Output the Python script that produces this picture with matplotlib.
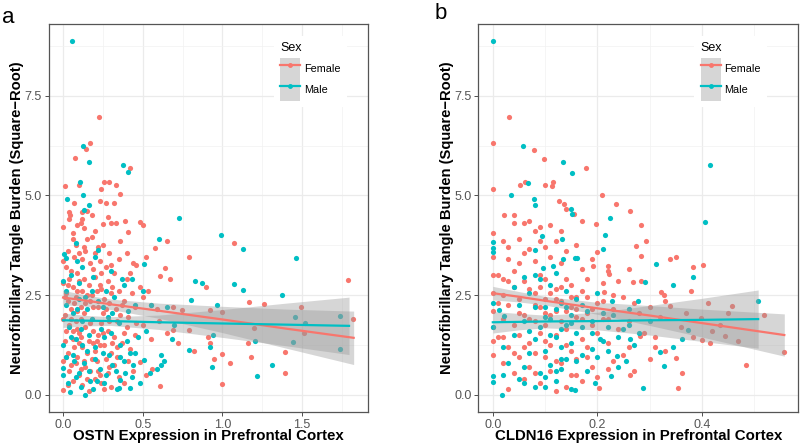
import numpy as np
import matplotlib.pyplot as plt
from matplotlib.patches import Patch
from matplotlib.lines import Line2D

plt.rcParams['font.family'] = ['Liberation Sans', 'DejaVu Sans']

FEMALE = '#F8766D'
MALE = '#00BFC4'

# panel a: OSTN expression vs tangle burden, (x, y) pairs
female_a = [
    (0.224, 6.98), (0.17, 6.31), (0.144, 6.17), (0.073, 5.93), (0.42, 5.68), (0.013, 5.24), (0.10, 5.26),
    (0.26, 5.35), (0.29, 5.35), (0.33, 5.25), (0.24, 5.16), (0.36, 5.03),
    (0.07, 4.81), (0.23, 4.87), (0.27, 4.8), (0.32, 4.8), (0.04, 4.58), (0.045, 4.5), (0.035, 4.4),
    (0.12, 4.58), (0.15, 4.62), (0.18, 4.52), (0.11, 4.3), (0.13, 4.18), (0.09, 4.25), (0.0, 4.2),
    (0.39, 4.36), (0.48, 4.33), (0.5, 4.26), (0.41, 4.09), (0.30, 4.32), (0.28, 4.45), (0.25, 4.28),
    (0.2, 4.1), (0.06, 4.05), (0.33, 4.3), (0.12, 4.4),
    (0.58, 3.67), (0.65, 3.85), (0.79, 3.46), (1.075, 3.81), (0.0, 3.35), (0.03, 3.6), (0.08, 3.75),
    (0.1, 3.55), (0.12, 3.4), (0.15, 3.9), (0.17, 3.3), (0.2, 3.55), (0.22, 3.7), (0.25, 3.75),
    (0.27, 3.2), (0.3, 3.25), (0.32, 3.05), (0.36, 3.85), (0.4, 3.55), (0.44, 3.3), (0.46, 3.25),
    (0.52, 3.45), (0.35, 3.4), (0.05, 3.1), (0.09, 3.05), (0.19, 3.15), (0.42, 3.05), (0.14, 3.6),
    (0.06, 3.9), (0.23, 3.35),
    (1.79, 2.88), (0.61, 2.98), (0.64, 3.19), (0.67, 2.9), (0.895, 2.7), (1.167, 2.32), (1.26, 2.29),
    (1.49, 2.21), (0.0, 2.8), (0.02, 2.55), (0.04, 2.9), (0.06, 2.7), (0.08, 2.45), (0.1, 2.85),
    (0.12, 2.6), (0.14, 2.3), (0.16, 2.75), (0.18, 2.5), (0.2, 2.95), (0.22, 2.2), (0.24, 2.65),
    (0.26, 2.4), (0.28, 2.85), (0.3, 2.55), (0.33, 2.15), (0.35, 2.6), (0.38, 2.35), (0.4, 2.9),
    (0.43, 2.55), (0.45, 2.2), (0.48, 2.7), (0.5, 2.45), (0.53, 2.6), (0.55, 2.25), (0.59, 2.15),
    (0.69, 2.2), (0.745, 2.12), (0.92, 2.13), (0.995, 2.07), (0.01, 2.0), (0.05, 2.15), (0.09, 2.1),
    (0.13, 2.05), (0.17, 2.35), (0.21, 2.6), (0.25, 2.05), (0.29, 2.3), (0.36, 2.0), (0.03, 2.35),
    (0.11, 2.2),
    (1.82, 1.9), (1.51, 1.54), (1.39, 1.08), (1.0, 1.03), (1.16, 1.3), (0.92, 1.31), (0.91, 1.46),
    (0.82, 1.09), (0.79, 1.63), (0.72, 1.3), (0.69, 1.62), (1.195, 1.67), (0.0, 1.9), (0.02, 1.6),
    (0.04, 1.75), (0.06, 1.4), (0.08, 1.85), (0.1, 1.55), (0.12, 1.2), (0.14, 1.7), (0.16, 1.35),
    (0.18, 1.9), (0.2, 1.1), (0.22, 1.5), (0.24, 1.8), (0.26, 1.25), (0.28, 1.6), (0.3, 1.05),
    (0.32, 1.45), (0.34, 1.85), (0.37, 1.3), (0.4, 1.7), (0.42, 1.15), (0.45, 1.5), (0.5, 1.75),
    (0.55, 1.4), (0.6, 1.85), (0.65, 1.55), (0.03, 1.05), (0.07, 1.2), (0.11, 1.9), (0.15, 1.05),
    (0.19, 1.6), (0.23, 1.25), (0.01, 1.35), (0.09, 1.65),
    (1.39, 0.54), (1.0, 0.28), (1.05, 0.79), (1.18, 0.94), (0.95, 0.9), (0.61, 0.21), (0.0, 0.12),
    (0.0, 0.85), (0.02, 0.95), (0.04, 0.6), (0.06, 0.35), (0.08, 0.8), (0.1, 0.5), (0.12, 0.25),
    (0.14, 0.7), (0.16, 0.1), (0.18, 0.9), (0.2, 0.4), (0.22, 0.6), (0.24, 0.3), (0.26, 0.15),
    (0.28, 0.55), (0.3, 0.2), (0.32, 0.75), (0.35, 0.45), (0.38, 0.3), (0.44, 0.6), (0.48, 0.82),
    (0.52, 0.5), (0.56, 0.65), (0.03, 0.25), (0.09, 0.95), (0.13, 0.85), (0.27, 0.9),
    (0.01, 2.45), (0.03, 2.75), (0.05, 1.9), (0.07, 2.3), (0.09, 2.6), (0.11, 1.45), (0.13, 2.9),
    (0.15, 2.5), (0.17, 1.8), (0.19, 2.2), (0.21, 1.35), (0.23, 2.75), (0.25, 1.55), (0.27, 2.15),
    (0.29, 1.85), (0.31, 2.7), (0.34, 1.2), (0.37, 2.25), (0.41, 1.95), (0.46, 1.8), (0.02, 3.2),
    (0.07, 3.45), (0.13, 3.7), (0.18, 3.95), (0.24, 3.05), (0.29, 3.55), (0.05, 0.75), (0.11, 0.65),
    (0.15, 0.4), (0.19, 1.3), (0.23, 0.5), (0.29, 0.7), (0.34, 0.95), (0.41, 0.85), (0.06, 1.6),
    (0.1, 1.3), (0.17, 0.6), (0.21, 0.85), (0.31, 1.3), (0.38, 1.55),
]

male_a = [
    (0.054, 8.87), (0.125, 6.24), (0.16, 5.84), (0.374, 5.76), (0.41, 5.58), (0.107, 5.33), (0.125, 5.01),
    (0.027, 4.92), (0.16, 4.75), (0.134, 4.64), (0.728, 4.44), (0.99, 4.02), (0.60, 3.91), (1.13, 3.66),
    (1.464, 3.44), (0.004, 3.54), (0.017, 3.42), (0.22, 3.64), (0.51, 3.28), (0.83, 2.85), (0.874, 2.81),
    (1.075, 2.77), (1.127, 2.63), (1.376, 2.5), (0.805, 2.37), (0.966, 2.26), (1.455, 1.96), (1.52, 1.8),
    (1.738, 1.98), (1.74, 1.15), (1.44, 1.33), (1.205, 1.34), (1.217, 0.48), (1.31, 0.74), (0.935, 0.71),
    (0.943, 1.51), (0.92, 1.21), (0.79, 1.13), (0.686, 1.4), (0.613, 1.0), (0.632, 0.86), (0.617, 0.75),
    (0.588, 0.65), (0.544, 0.54), (0.51, 0.88), (0.42, 1.06), (0.45, 1.06), (0.34, 0.15), (0.36, 0.38),
    (0.35, 0.17), (0.42, 0.17), (0.14, 0.0), (0.044, 0.08), (0.0, 0.67), (0.0, 0.5), (0.694, 1.75),
    (0.05, 3.0), (0.08, 3.8), (0.1, 2.8), (0.12, 3.2), (0.2, 3.45), (0.3, 3.1), (0.38, 2.75),
    (0.37, 2.9), (0.0, 2.85), (0.02, 2.25), (0.06, 2.05), (0.1, 2.4), (0.15, 2.15), (0.18, 2.6),
    (0.25, 2.2), (0.28, 1.95), (0.32, 2.45), (0.45, 2.25), (0.55, 2.25), (0.65, 2.2), (0.5, 2.6),
    (0.04, 1.7), (0.08, 1.4), (0.12, 1.85), (0.16, 1.5), (0.2, 1.2), (0.24, 1.65), (0.3, 1.55),
    (0.35, 1.8), (0.4, 1.35), (0.47, 1.45), (0.52, 1.6), (0.0, 1.25), (0.06, 1.0), (0.1, 0.55),
    (0.13, 0.8), (0.17, 0.35), (0.2, 0.9), (0.23, 0.65), (0.26, 0.3), (0.29, 1.0), (0.33, 0.6),
    (0.38, 0.85), (0.43, 0.45), (0.03, 0.3), (0.07, 0.85), (0.11, 0.2), (0.15, 1.1), (0.19, 0.15),
    (0.27, 0.5), (0.39, 0.55), (0.48, 0.3),
    (0.02, 2.6), (0.05, 1.45), (0.09, 2.15), (0.11, 1.65), (0.14, 2.45), (0.18, 1.9), (0.22, 2.35),
    (0.26, 1.45), (0.31, 2.05), (0.36, 1.25), (0.41, 2.1), (0.02, 0.95), (0.08, 0.45), (0.12, 1.25),
    (0.16, 0.6), (0.21, 0.35), (0.25, 1.05), (0.31, 0.75), (0.36, 0.95), (0.44, 0.75), (0.09, 3.35),
    (0.19, 2.95), (0.27, 2.6), (0.43, 2.9),
]

# panel b: CLDN16 expression vs tangle burden
female_b = [
    (0.0, 6.32), (0.031, 6.98), (0.0, 5.15), (0.078, 6.15), (0.098, 5.92), (0.179, 5.68), (0.052, 5.25),
    (0.061, 5.33), (0.10, 5.26), (0.113, 5.23), (0.116, 5.33), (0.209, 5.02), (0.235, 4.78), (0.263, 4.6),
    (0.022, 4.5), (0.04, 4.52), (0.126, 4.85), (0.137, 4.78), (0.14, 4.67), (0.155, 4.53), (0.197, 4.28),
    (0.283, 4.25), (0.274, 3.73), (0.293, 3.87), (0.284, 3.48), (0.35, 3.46), (0.383, 3.2), (0.402, 3.26),
    (0.412, 2.3), (0.458, 2.23), (0.52, 2.0), (0.558, 1.08), (0.485, 0.75), (0.355, 0.17), (0.363, 0.55),
    (0.35, 0.92), (0.444, 1.48), (0.416, 1.29), (0.4, 1.37), (0.384, 1.44), (0.31, 1.45), (0.31, 1.21),
    (0.281, 1.48), (0.262, 0.5), (0.204, 0.17), (0.328, 2.51), (0.322, 2.58), (0.34, 2.24), (0.37, 2.04),
    (0.398, 1.92), (0.434, 1.75), (0.283, 2.85), (0.269, 2.83), (0.213, 2.57), (0.231, 2.5), (0.223, 3.02),
    (0.221, 3.23), (0.191, 3.23), (0.2, 3.57),
    (0.0, 4.05), (0.0, 3.45), (0.0, 2.55), (0.0, 2.1), (0.0, 1.35), (0.0, 1.0), (0.01, 3.0), (0.01, 1.45),
    (0.02, 3.85), (0.02, 2.9), (0.02, 2.5), (0.02, 1.9), (0.02, 0.8), (0.03, 3.4), (0.03, 2.25),
    (0.03, 1.2), (0.03, 0.15), (0.04, 4.3), (0.04, 3.1), (0.04, 2.7), (0.04, 1.75), (0.04, 0.55),
    (0.05, 3.9), (0.05, 3.3), (0.05, 2.4), (0.05, 1.5), (0.05, 0.95), (0.06, 4.3), (0.06, 2.85),
    (0.06, 2.0), (0.06, 0.4), (0.07, 4.35), (0.07, 3.65), (0.07, 2.65), (0.07, 1.3), (0.07, 0.7),
    (0.08, 4.1), (0.08, 3.35), (0.08, 2.55), (0.08, 1.85), (0.08, 1.05), (0.09, 4.2), (0.09, 3.0),
    (0.09, 2.2), (0.09, 1.55), (0.09, 0.3), (0.1, 3.7), (0.1, 2.9), (0.1, 2.4), (0.1, 1.75), (0.1, 0.95),
    (0.11, 4.25), (0.11, 3.45), (0.11, 2.0), (0.11, 1.25), (0.11, 0.6), (0.12, 3.85), (0.12, 2.65),
    (0.12, 2.1), (0.12, 1.5), (0.12, 0.1), (0.13, 3.3), (0.13, 2.35), (0.13, 1.85), (0.13, 0.8),
    (0.14, 3.6), (0.14, 2.9), (0.14, 1.65), (0.14, 0.2), (0.15, 2.75), (0.15, 2.2), (0.15, 1.1),
    (0.15, 0.5), (0.16, 3.75), (0.16, 2.45), (0.16, 1.95), (0.16, 0.9), (0.17, 3.15), (0.17, 2.6),
    (0.17, 1.4), (0.17, 0.35), (0.18, 2.9), (0.18, 2.05), (0.18, 1.2), (0.19, 3.4), (0.19, 1.75),
    (0.19, 0.7), (0.2, 2.3), (0.2, 1.55), (0.2, 0.45), (0.21, 2.8), (0.21, 1.9), (0.22, 3.1), (0.22, 1.3),
    (0.23, 2.15), (0.23, 0.85), (0.24, 1.65), (0.25, 2.45), (0.25, 1.0), (0.26, 3.15), (0.26, 1.85),
    (0.27, 0.6), (0.29, 1.55), (0.3, 2.2), (0.3, 0.9), (0.32, 1.95), (0.33, 1.1), (0.34, 3.4),
    (0.36, 1.7), (0.38, 2.6), (0.42, 1.6), (0.45, 2.05), (0.47, 1.35),
    (0.0, 1.7), (0.0, 3.0), (0.01, 2.3), (0.03, 2.85), (0.05, 2.05), (0.06, 3.55), (0.07, 1.9),
    (0.08, 2.25), (0.09, 2.7), (0.1, 2.05), (0.11, 2.55), (0.12, 2.4), (0.13, 2.7), (0.14, 2.1),
    (0.15, 2.45), (0.16, 2.15), (0.17, 1.9), (0.18, 2.45), (0.19, 2.15), (0.21, 2.35), (0.02, 1.45),
    (0.04, 1.05), (0.06, 1.2), (0.08, 0.55), (0.1, 1.35), (0.12, 0.85), (0.14, 1.25), (0.16, 0.5),
    (0.18, 0.95), (0.22, 0.65), (0.24, 2.85), (0.27, 2.3), (0.03, 3.7), (0.09, 3.85), (0.13, 4.1),
    (0.17, 4.35), (0.22, 1.9), (0.26, 1.2), (0.28, 2.05), (0.33, 2.35),
]

male_b = [
    (0.0, 8.87), (0.057, 6.23), (0.135, 5.83), (0.151, 5.57), (0.416, 5.76), (0.068, 5.32), (0.035, 5.0),
    (0.079, 4.9), (0.081, 4.76), (0.149, 4.65), (0.152, 4.54), (0.225, 4.43), (0.407, 4.33), (0.214, 4.02),
    (0.095, 3.98), (0.132, 3.9), (0.0, 3.83), (0.0, 3.67), (0.0, 3.58), (0.21, 3.65), (0.158, 3.44),
    (0.161, 3.42), (0.135, 3.4), (0.313, 3.28), (0.08, 3.63), (0.096, 3.19), (0.116, 3.23), (0.345, 2.76),
    (0.384, 2.95), (0.508, 2.36), (0.292, 2.82), (0.277, 2.36), (0.229, 2.36), (0.011, 2.13), (0.022, 1.97),
    (0.373, 1.62), (0.363, 1.4), (0.345, 1.19), (0.32, 1.07), (0.327, 0.73), (0.288, 0.17), (0.017, 0.0),
    (0.0, 0.48), (0.0, 0.33), (0.262, 1.4), (0.205, 1.4), (0.255, 0.85), (0.237, 0.98), (0.226, 0.46),
    (0.196, 0.29), (0.158, 0.11),
    (0.02, 1.2), (0.03, 0.8), (0.04, 1.5), (0.05, 0.4), (0.05, 2.25), (0.06, 1.85), (0.06, 0.3),
    (0.07, 1.05), (0.07, 2.55), (0.08, 1.4), (0.08, 0.2), (0.09, 2.9), (0.09, 1.7), (0.09, 0.55),
    (0.1, 2.2), (0.1, 1.1), (0.1, 0.45), (0.11, 2.75), (0.11, 1.9), (0.11, 0.75), (0.12, 1.45),
    (0.12, 0.35), (0.13, 2.3), (0.13, 1.2), (0.13, 0.65), (0.14, 2.6), (0.14, 1.75), (0.14, 0.9),
    (0.15, 2.0), (0.15, 1.3), (0.15, 0.15), (0.16, 2.4), (0.16, 1.55), (0.16, 0.85), (0.17, 1.0),
    (0.18, 2.1), (0.18, 0.6), (0.19, 1.85), (0.19, 1.15), (0.2, 2.55), (0.2, 0.95), (0.21, 1.35),
    (0.22, 1.7), (0.23, 2.0), (0.24, 0.7), (0.25, 1.65), (0.26, 2.15), (0.27, 1.25), (0.3, 1.85),
    (0.08, 3.0), (0.12, 3.05), (0.06, 2.95),
    (0.0, 2.3), (0.0, 1.7), (0.02, 0.5), (0.04, 2.7), (0.07, 1.6), (0.08, 2.2), (0.1, 1.95),
    (0.11, 1.5), (0.12, 2.15), (0.13, 1.65), (0.14, 2.2), (0.15, 1.8), (0.17, 2.25), (0.17, 1.7),
    (0.19, 1.55), (0.21, 2.05), (0.22, 1.1), (0.24, 1.45), (0.26, 1.75), (0.28, 1.55), (0.12, 0.6),
    (0.13, 0.9), (0.1, 0.2), (0.06, 0.7),
]

# lm fits with 95% bands: x, fit, lower, upper
fit_female_a = ([0, 0.15, 0.3, 0.6, 1.0, 1.4, 1.823],
                [2.44, 2.36, 2.27, 2.11, 1.89, 1.66, 1.43],
                [2.26, 2.22, 2.14, 1.92, 1.56, 1.17, 0.76],
                [2.62, 2.50, 2.40, 2.30, 2.22, 2.15, 2.10])
fit_male_a = ([0, 0.15, 0.3, 0.6, 1.0, 1.4, 1.794],
              [1.87, 1.86, 1.85, 1.82, 1.79, 1.76, 1.73],
              [1.69, 1.73, 1.74, 1.64, 1.44, 1.23, 1.01],
              [2.05, 1.99, 1.96, 2.00, 2.14, 2.30, 2.45])
fit_female_b = ([0, 0.05, 0.1, 0.2, 0.3, 0.4, 0.558],
                [2.55, 2.46, 2.36, 2.17, 1.99, 1.80, 1.50],
                [2.38, 2.33, 2.25, 2.02, 1.74, 1.45, 0.97],
                [2.72, 2.59, 2.47, 2.32, 2.24, 2.15, 2.03])
fit_male_b = ([0, 0.05, 0.1, 0.2, 0.3, 0.4, 0.508],
              [1.82, 1.83, 1.84, 1.85, 1.87, 1.88, 1.90],
              [1.55, 1.63, 1.68, 1.63, 1.50, 1.34, 1.17],
              [2.09, 2.04, 2.00, 2.07, 2.24, 2.42, 2.63])

y_ticks = [0, 2.5, 5.0, 7.5]
y_minor = [1.25, 3.75, 6.25, 8.75]
ylabel = "Neurofibrillary Tangle Burden (Square\u2212Root)"


def drawPanel(ax, female, male, fit_f, fit_m, xticks, xminor, xlim, xlabel, legend_x):
    for pts, c in [(female, FEMALE), (male, MALE)]:
        arr = np.array(pts)
        ax.scatter(arr[:, 0], arr[:, 1], s=14, color=c, linewidths=0, zorder=2)
    for fit in [fit_f, fit_m]:
        ax.fill_between(fit[0], fit[2], fit[3], color='#999999', alpha=0.4, linewidth=0, zorder=3)
    for fit, c in [(fit_f, FEMALE), (fit_m, MALE)]:
        ax.plot(fit[0], fit[1], color=c, lw=1.6, zorder=4)

    ax.set_xlim(xlim)
    ax.set_ylim(-0.43, 9.30)
    ax.set_xticks(xticks)
    ax.set_xticklabels([f"{t:.1f}" for t in xticks])
    ax.set_xticks(xminor, minor=True)
    ax.set_yticks(y_ticks)
    ax.set_yticklabels([f"{t:.1f}" for t in y_ticks])
    ax.set_yticks(y_minor, minor=True)
    ax.grid(which='major', color='#EBEBEB', lw=0.9)
    ax.grid(which='minor', color='#F2F2F2', lw=0.5)
    ax.set_axisbelow(True)
    ax.tick_params(which='major', length=3, width=0.6, color='#333333',
                   labelsize=9, labelcolor='#555555', pad=2)
    ax.tick_params(which='minor', length=0)
    for s in ax.spines.values():
        s.set_color('#555555')
        s.set_linewidth(0.9)

    ax.set_xlabel(xlabel, fontsize=10.8, fontweight='bold', va='center')
    ax.xaxis.set_label_coords(0.5, -0.063)
    ax.set_ylabel(ylabel, fontsize=10.6, fontweight='bold', va='center')
    ax.yaxis.set_label_coords(-0.099, 0.5)

    band = Patch(facecolor='#999999', alpha=0.4, edgecolor='none')
    handles = [(band, Line2D([], [], color=c, lw=1.6, marker='o', markersize=3.5, markeredgewidth=0))
               for c in [FEMALE, MALE]]
    # handleheight 2.7 makes the grey key boxes fill each row so they join up like ggplot keys
    leg = ax.legend(handles, ['Female', 'Male'], title='Sex', loc='upper left',
                    bbox_to_anchor=(legend_x, 0.97), borderaxespad=0, fontsize=7.8,
                    title_fontsize=9, alignment='left', handlelength=1.85, handleheight=2.7,
                    labelspacing=0, handletextpad=0.35, borderpad=0.6, frameon=True,
                    fancybox=False, framealpha=1, facecolor='white', edgecolor='none')
    leg._legend_box.sep = 2.5  # small gap between title and keys
    leg.set_zorder(5)


fig = plt.figure(figsize=(8, 4.48), dpi=100)
ax1 = fig.add_axes([0.06125, 0.0804, 0.39875, 0.866])
ax2 = fig.add_axes([0.598, 0.0804, 0.4, 0.866])

drawPanel(ax1, female_a, male_a, fit_female_a, fit_male_a, [0, 0.5, 1.0, 1.5], [0.25, 0.75, 1.25, 1.75],
          (-0.088, 1.913), "OSTN Expression in Prefrontal Cortex", 0.705)
drawPanel(ax2, female_b, male_b, fit_female_b, fit_male_b, [0, 0.2, 0.4], [0.1, 0.3, 0.5],
          (-0.0276, 0.585), "CLDN16 Expression in Prefrontal Cortex", 0.674)

fig.text(0.003, 0.985, "a", fontsize=16, va='top', ha='left')
fig.text(0.543, 0.993, "b", fontsize=16, va='top', ha='left')

fig.savefig("out.png", dpi=100)
